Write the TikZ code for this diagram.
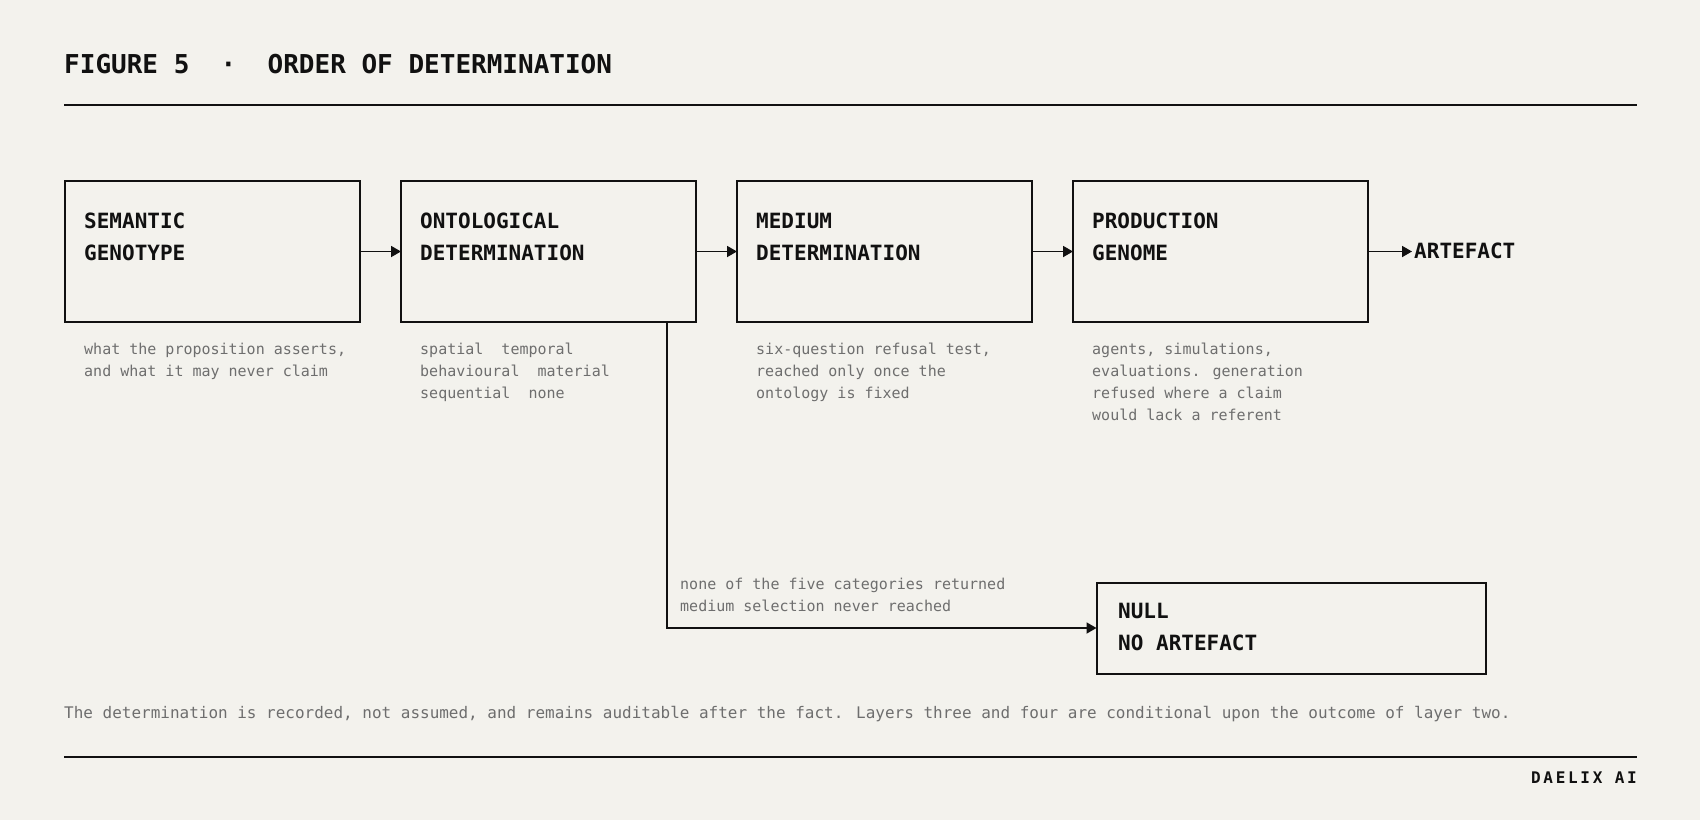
\documentclass[tikz,border=0pt]{standalone}
\usepackage{fontspec}
\setmonofont{DejaVu Sans Mono}
\newfontfamily\mono{DejaVu Sans Mono}
\newfontfamily\monowide[LetterSpace=17]{DejaVu Sans Mono}
\usetikzlibrary{arrows.meta}
\definecolor{bg}{HTML}{F3F2ED}
\definecolor{ink}{HTML}{111111}
\definecolor{greytext}{HTML}{6E6E6E}
\tikzset{
  box/.style={draw=ink, line width=2pt, rectangle, anchor=north west, minimum width=295pt, minimum height=141pt, inner sep=0pt, outer sep=0pt},
  nullbox/.style={draw=ink, line width=2pt, rectangle, anchor=north west, minimum width=389pt, minimum height=91pt, inner sep=0pt, outer sep=0pt},
  label/.style={anchor=base west, inner sep=0pt, text=ink, font=\mono\bfseries\fontsize{21}{32}\selectfont},
  desc/.style={anchor=base west, inner sep=0pt, text=greytext, font=\mono\fontsize{15}{22}\selectfont},
  arr/.style={draw=ink, line width=1.8pt, -{Triangle[length=10pt,width=11pt]}},
  rule/.style={draw=ink, line width=2pt},
}
\begin{document}
\begin{tikzpicture}[x=1pt, y=-1pt]
\fill[bg] (0,0) rectangle (1700,820);
\useasboundingbox (0,0) rectangle (1700,820);

% title
\node[anchor=base west, inner sep=0pt, text=ink, font=\mono\bfseries\fontsize{26}{30}\selectfont] (title) at (64,73.5) {FIGURE 5\ \ ·\ \ ORDER OF DETERMINATION};
\coordinate (rtl) at (64,104.5);
\coordinate (rtr) at (1637,104.5);
\draw[rule] (rtl) -- (rtr);

% boxes
\node[box] (b1) at (65,181) {};
\node[box] (b2) at (401,181) {};
\node[box] (b3) at (737,181) {};
\node[box] (b4) at (1073,181) {};

\node[label] (l1a) at (84,228) {SEMANTIC};
\node[label] (l1b) at (84,260) {GENOTYPE};
\node[label] (l2a) at (420,228) {ONTOLOGICAL};
\node[label] (l2b) at (420,260) {DETERMINATION};
\node[label] (l3a) at (756,228) {MEDIUM};
\node[label] (l3b) at (756,260) {DETERMINATION};
\node[label] (l4a) at (1092,228) {PRODUCTION};
\node[label] (l4b) at (1092,260) {GENOME};

\node[label, inner xsep=2pt] (art) at (1412,258) {ARTEFACT};

\draw[arr] (b1.east) -- (b2.west);
\draw[arr] (b2.east) -- (b3.west);
\draw[arr] (b3.east) -- (b4.west);
\draw[arr] (b4.east) -- (b4.east -| art.west);

% descriptions
\node[desc] (d1a) at (84,354) {what the proposition asserts,};
\node[desc] (d1b) at (84,376) {and what it may never claim};
\node[desc] (d2a) at (420,354) {spatial\ \ temporal};
\node[desc] (d2b) at (420,376) {behavioural\ \ material};
\node[desc] (d2c) at (420,398) {sequential\ \ none};
\node[desc] (d3a) at (756,354) {six-question refusal test,};
\node[desc] (d3b) at (756,376) {reached only once the};
\node[desc] (d3c) at (756,398) {ontology is fixed};
\node[desc] (d4a) at (1092,354) {agents, simulations,};
\node[desc] (d4b) at (1092,376) {evaluations. generation};
\node[desc] (d4c) at (1092,398) {refused where a claim};
\node[desc] (d4d) at (1092,420) {would lack a referent};

% null branch
\node[nullbox] (nb) at (1096.5,582.5) {};
\node[label] (n1) at (1118,618) {NULL};
\node[label] (n2) at (1118,650) {NO ARTEFACT};
\coordinate (tap) at ([xshift=-29pt]b2.south east);
\draw[arr] (tap) |- (nb.west);
\node[desc] (na) at (680,589) {none of the five categories returned};
\node[desc] (nbb) at (680,611) {medium selection never reached};

% footer
\node[anchor=base west, inner sep=0pt, text=greytext, font=\mono\fontsize{15.98}{20}\selectfont] (foot) at (64,718) {The determination is recorded, not assumed, and remains auditable after the fact. Layers three and four are conditional upon the outcome of layer two.};
\coordinate (rbl) at (64,757);
\coordinate (rbr) at (1637,757);
\draw[rule] (rbl) -- (rbr);
\node[anchor=base east, inner sep=0pt, text=ink, font=\monowide\bfseries\fontsize{16}{20}\selectfont] (brand) at (1637,783) {DAELIX AI};
\end{tikzpicture}
\end{document}
